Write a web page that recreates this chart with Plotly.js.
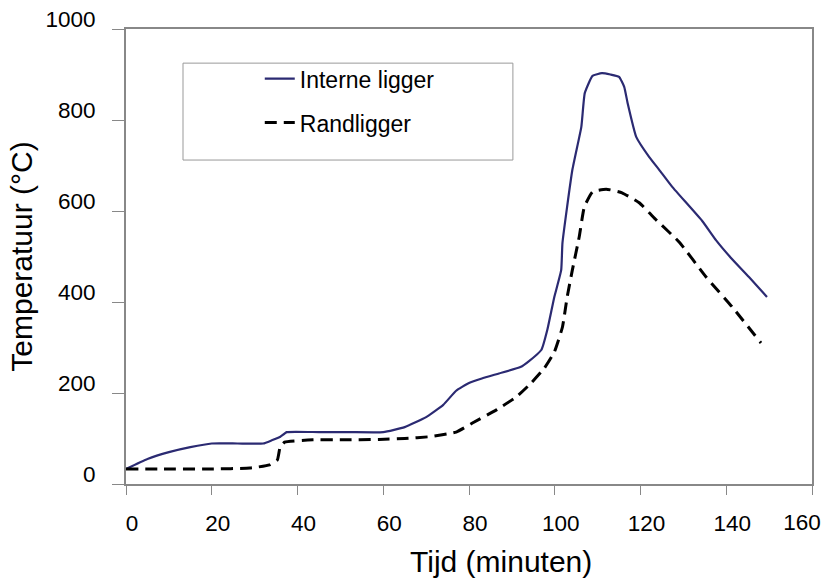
<!DOCTYPE html>
<html>
<head>
<meta charset="utf-8">
<script src="https://cdn.plot.ly/plotly-3.0.1.min.js"></script>
<style>html,body{margin:0;padding:0;background:#fff;}#chart{width:825px;height:581px;}</style>
</head>
<body>
<div id="chart"></div>
<script>
// Interne ligger (solid)
const tInterne = [0, 5, 10, 15, 20, 26, 32, 34, 36, 37.5, 45, 52, 60, 65, 70, 74, 77, 80, 83, 87, 92, 94, 96.9, 98.3, 99.9, 101.5, 101.8, 104.1, 106.2, 107, 108.8, 111, 113, 115, 116.2, 117, 119, 122, 124.4, 127.4, 134.4, 137.6, 141, 145.3, 149.5];
const yInterne = [33, 55, 70, 81, 89, 89, 89, 96, 104, 114, 114, 114, 114, 125, 147, 174, 205, 222, 232, 243, 257, 270, 295, 340, 411, 470, 530, 690, 785, 859, 897, 903, 900, 895, 873, 837, 763, 719, 690, 653, 578, 536, 498, 455, 411];

// Randligger (dashed)
const tRand = [0, 10, 20, 28.9, 33.5, 35.3, 35.9, 37, 43.6, 50, 59, 65, 70.8, 77, 80.8, 86.4, 91, 94.5, 97.6, 99.9, 101.8, 102.9, 104.1, 105.7, 106.9, 108.8, 112, 115.7, 119.7, 123.7, 129, 135.3, 141.4, 148.1];
const yRand = [33, 33, 33, 35, 42, 53, 79, 92, 97, 97, 98, 100, 104, 114, 134, 163, 191, 222, 255, 290, 345, 411, 470, 543, 609, 642, 648, 640, 618, 580, 532, 455, 389, 310];

const xTicks = [0, 20, 40, 60, 80, 100, 120, 140, 160];
const xTickText = ['0', '20', '40', '60', '80', '100', '120', '140', ''];
const xLastTick = [160];
const xLastText = ['160'];
const yTicks = [0, 200, 400, 600, 800, 1000];

const FONT = 'Liberation Sans, Arial, sans-serif';

const traces = [
  {x: tInterne, y: yInterne, name: 'Interne ligger', mode: 'lines', legendgroup: 'a',
   line: {color: '#2b2a72', width: 2.2, shape: 'spline', smoothing: 0.4}},
  {x: tRand, y: yRand, name: 'Randligger', mode: 'lines', legendgroup: 'b',
   line: {color: '#000000', width: 3, dash: '12px,7px', shape: 'spline', smoothing: 0.4}},
  // empty helper trace so the overlay axis carrying the last tick label is drawn
  {x: xLastTick, y: [null], xaxis: 'x2', yaxis: 'y', mode: 'lines', showlegend: false,
   hoverinfo: 'skip', line: {color: 'rgba(0,0,0,0)', width: 0}}
];

const layout = {
  width: 825, height: 581,
  margin: {l: 126, r: 13, t: 29, b: 97},
  paper_bgcolor: '#ffffff', plot_bgcolor: '#ffffff',
  font: {family: FONT, color: '#000', size: 22.5},
  showlegend: true,
  legend: {x: 0.195, y: 0.938, xanchor: 'left', yanchor: 'top', bgcolor: 'rgba(0,0,0,0)',
           borderwidth: 0, font: {family: FONT, size: 23, color: '#000'}, tracegroupgap: 11},
  xaxis: {
    range: [0, 160], tickvals: xTicks, ticktext: xTickText,
    showgrid: false, zeroline: false, showline: true, mirror: true,
    linecolor: '#888', linewidth: 2, ticks: 'outside', ticklen: 9, tickcolor: '#888', tickwidth: 1,
    ticklabelstandoff: 9, ticklabelshift: 6,
    tickfont: {family: FONT, size: 22.5, color: '#000'}, fixedrange: true
  },
  xaxis2: {
    range: [0, 160], overlaying: 'x', anchor: 'y', side: 'bottom',
    tickvals: xLastTick, ticktext: xLastText,
    showgrid: false, zeroline: false, showline: false, ticks: 'outside', ticklen: 9, tickcolor: 'rgba(0,0,0,0)',
    ticklabelstandoff: 9, ticklabelshift: -10, ticklabeloverflow: 'allow',
    tickfont: {family: FONT, size: 22.5, color: '#000'}, fixedrange: true
  },
  yaxis: {
    range: [0, 1000], tickvals: yTicks, ticktext: yTicks.map(String),
    showgrid: false, zeroline: false, showline: true, mirror: true,
    linecolor: '#888', linewidth: 2, ticks: 'outside', ticklen: 12, tickcolor: '#888', tickwidth: 1,
    ticklabelshift: -10, ticklabelstandoff: 12,
    tickfont: {family: FONT, size: 22.5, color: '#000'},
    title: {text: 'Temperatuur (°C)', font: {family: FONT, size: 30, color: '#000'}, standoff: 4},
    fixedrange: true
  },
  shapes: [
    {type: 'rect', xref: 'paper', yref: 'paper', x0: 0.0831, x1: 0.564, y0: 0.712, y1: 0.925,
     line: {color: '#999', width: 1}, fillcolor: 'rgba(0,0,0,0)', layer: 'below'}
  ],
  annotations: [
    {text: 'Tijd (minuten)', xref: 'paper', yref: 'paper', x: 0.5466, y: -0.171,
     xanchor: 'center', yanchor: 'middle', showarrow: false,
     font: {family: FONT, size: 30, color: '#000'}}
  ]
};

Plotly.newPlot('chart', traces, layout, {displayModeBar: false, staticPlot: true});
</script>
</body>
</html>
